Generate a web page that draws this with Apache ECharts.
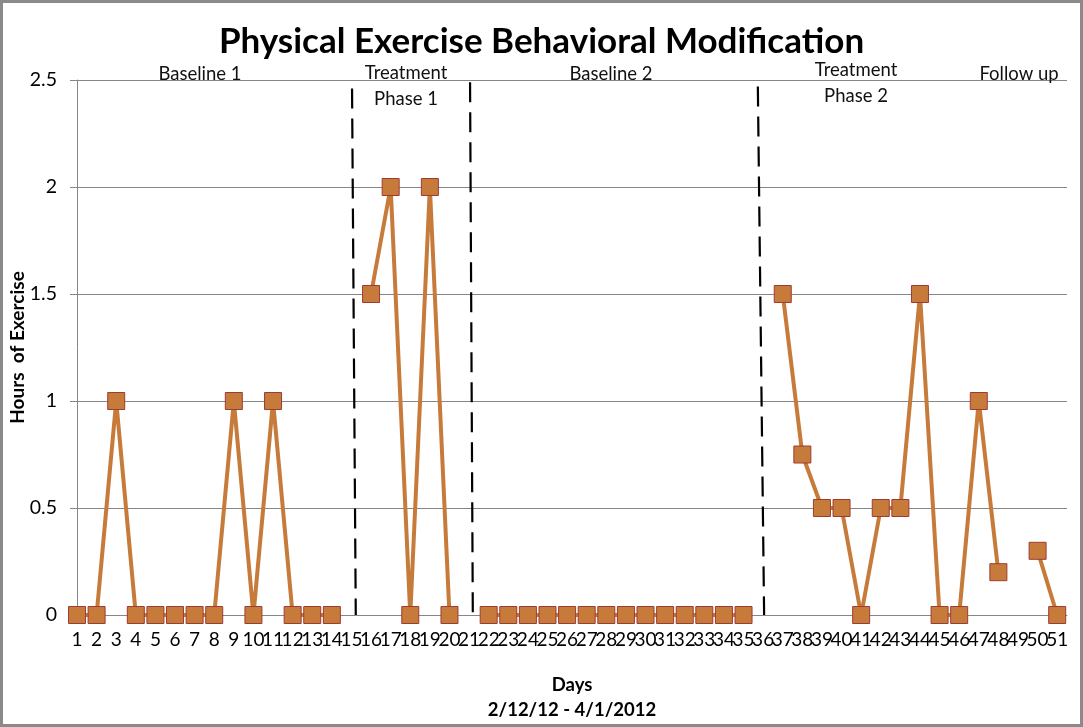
<!DOCTYPE html>
<html>
<head>
<meta charset="utf-8">
<script src="https://cdn.jsdelivr.net/npm/echarts@6/dist/echarts.min.js"></script>
<style>html,body{margin:0;padding:0;background:#fff}#c{width:1083px;height:727px}</style>
</head>
<body>
<div id="c"></div>
<script>
const days = [1,2,3,4,5,6,7,8,9,10,11,12,13,14,15,16,17,18,19,20,21,22,23,24,25,26,27,28,29,30,31,32,33,34,35,36,37,38,39,40,41,42,43,44,45,46,47,48,49,50,51];
const hours = [0,0,1,0,0,0,0,0,1,0,1,0,0,0,null,1.5,2,0,2,0,null,0,0,0,0,0,0,0,0,0,0,0,0,0,0,null,1.5,0.75,0.5,0.5,0,0.5,0.5,1.5,0,0,1,0.2,null,0.3,0];
const yTicks = [0,0.5,1,1.5,2,2.5];
// phase divider lines (hand-drawn, slightly slanted): [dayTop, yTop, dayBottom, yBottom]
const dividers = [[15.03,2.46,15.22,0],[21.05,2.49,21.19,0.01],[35.73,2.47,36.05,0]];
const phaseLabels = ["Baseline 1","Treatment\nPhase 1","Baseline 2","Treatment\nPhase 2","Follow up"];

const FONT = 'Lato, "Open Sans", sans-serif';
const chart = echarts.init(document.getElementById('c'), null, {renderer:'canvas'});

const phasePos = [[200,74],[406,86],[611,74],[856,83],[1019,74]];

const option = {
  animation:false,
  backgroundColor:'#fff',
  textStyle:{fontFamily:FONT},
  title:{text:'Physical Exercise Behavioral Modification', left:'center', top:19,
    textStyle:{fontFamily:FONT,fontSize:35,fontWeight:'bold',color:'#000'}},
  grid:{left:77,right:16,top:80,bottom:112,containLabel:false,outerBoundsMode:'none'},
  xAxis:{type:'value',min:1,max:51.5,interval:1,
    name:'Days\n2/12/12 - 4/1/2012',nameLocation:'middle',nameGap:58,nameMoveOverlap:false,
    nameTextStyle:{fontFamily:FONT,fontSize:18.5,fontWeight:'bold',color:'#000',lineHeight:25},
    axisLine:{show:true,lineStyle:{color:'#868686',width:1}},
    axisTick:{show:false},splitLine:{show:false},
    axisLabel:{fontSize:19,color:'#000',margin:15,showMaxLabel:false,
      formatter:v=>days.indexOf(v)>=0?String(v):''}},
  yAxis:{type:'value',min:yTicks[0],max:yTicks[yTicks.length-1],interval:0.5,
    name:'Hours  of Exercise',nameLocation:'middle',nameGap:50,nameMoveOverlap:false,
    nameTextStyle:{fontFamily:FONT,fontSize:19,fontWeight:'bold',color:'#000'},
    axisLine:{show:true,lineStyle:{color:'#868686',width:1}},
    axisTick:{show:true,inside:false,length:7,lineStyle:{color:'#868686'}},
    splitLine:{show:true,lineStyle:{color:'#868686',width:1}},
    axisLabel:{fontSize:19.5,color:'#000',margin:20}},
  series:[
    {type:'line',data:days.map((d,i)=>[d,hours[i]]),connectNulls:false,
     symbol:'rect',symbolSize:17,showAllSymbol:true,
     lineStyle:{color:'#C77B3A',width:4},
     itemStyle:{color:'#C77B3A',borderColor:'#9E3B34',borderWidth:1},z:5}
  ].concat(dividers.map(d=>({type:'line',data:[[d[0],d[1]],[d[2],d[3]]],symbol:'none',silent:true,
     lineStyle:{color:'#000',width:2.2,type:[20,10]},z:3}))),
  graphic:[
    {type:'rect',shape:{x:1.5,y:1.5,width:1080,height:724},style:{fill:null,stroke:'#8a8a8a',lineWidth:3},silent:true}
  ].concat(phaseLabels.map((t,i)=>({type:'text',x:phasePos[i][0],y:phasePos[i][1],z:10,
     style:{text:t,fontFamily:FONT,fontSize:18.5,fill:'#111',align:'center',verticalAlign:'middle',lineHeight:26}})))
};
chart.setOption(option);
</script>
</body>
</html>
